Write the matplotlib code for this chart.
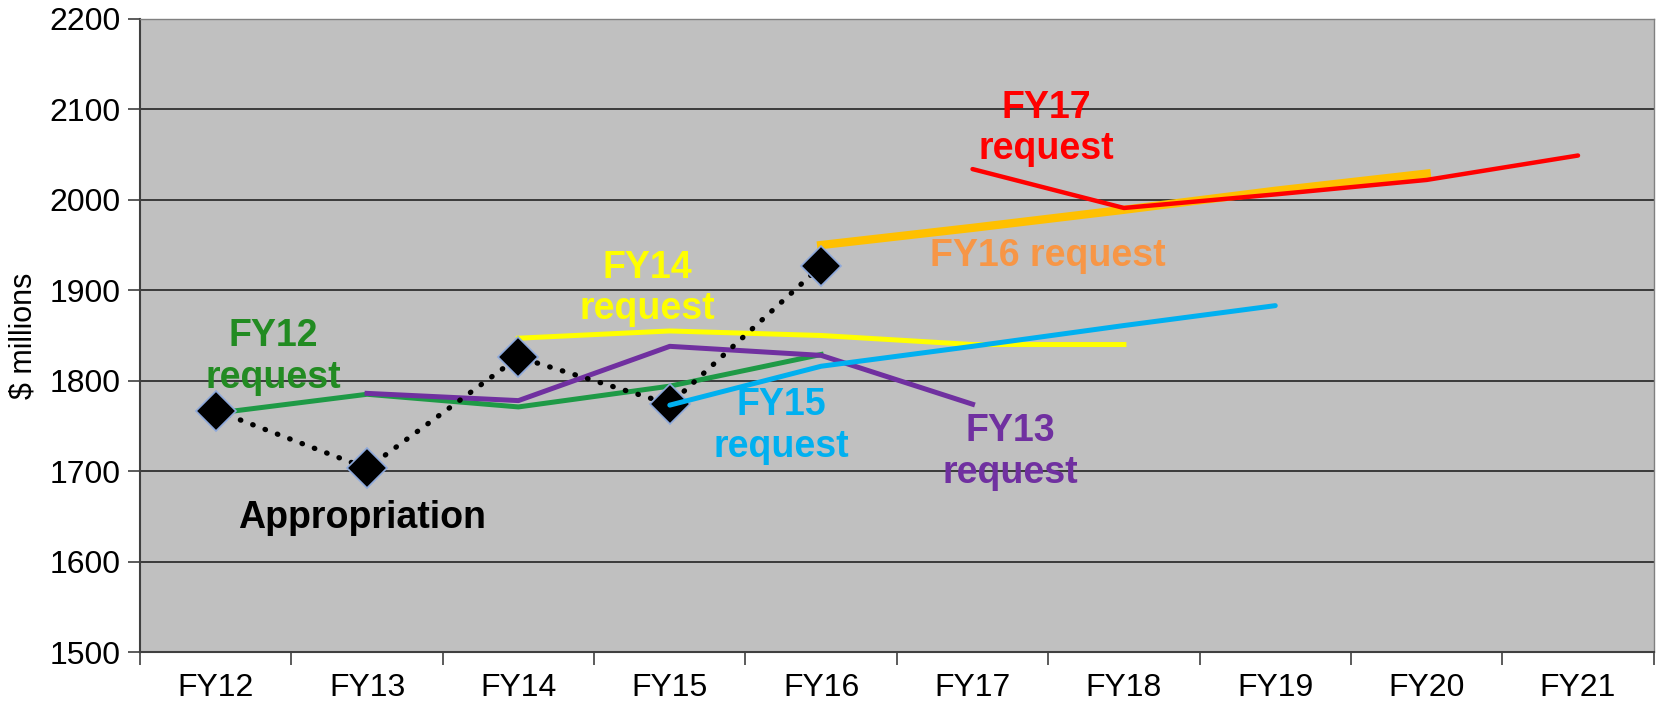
import numpy as np
import matplotlib.pyplot as plt

plt.switch_backend("agg")
plt.rcParams['font.family'] = ['Liberation Sans', 'DejaVu Sans']

years = ["FY12", "FY13", "FY14", "FY15", "FY16", "FY17", "FY18", "FY19", "FY20", "FY21"]
nan = np.nan

appropriation = [1767, 1703, 1826, 1774, 1927, nan, nan, nan, nan, nan]
fy12_req = [1764, 1785, 1771, 1794, 1829, nan, nan, nan, nan, nan]
fy13_req = [nan, 1786, 1778, 1838, 1828, 1774, nan, nan, nan, nan]
fy14_req = [nan, nan, 1847, 1855, 1850, 1840, 1840, nan, nan, nan]
fy15_req = [nan, nan, nan, 1773, 1816, 1838, 1861, 1883, nan, nan]
fy16_req = [nan, nan, nan, nan, 1950, 1969, 1989, 2010, 2029, nan]
fy17_req = [nan, nan, nan, nan, nan, 2034, 1991, 2006, 2022, 2049]

x = np.arange(len(years))

fig = plt.figure(figsize=(16.57, 7.02), dpi=100)
ax = fig.add_axes([0.0845, 0.0712, 0.9135, 0.9018])
ax.set_facecolor("#C0C0C0")

# request lines
ax.plot(x, fy12_req, color="#1E9A46", lw=3.6, zorder=3)
ax.plot(x, fy13_req, color="#7030A0", lw=3.6, zorder=3)
ax.plot(x, fy14_req, color="#FFFF00", lw=3.6, zorder=3)
ax.plot(x, fy15_req, color="#00B0F0", lw=3.6, zorder=4, solid_capstyle="round")
ax.plot(x, fy16_req, color="#FFC000", lw=6, zorder=3)
ax.plot(x, fy17_req, color="#FF0000", lw=3.2, zorder=3, solid_capstyle="round")

# appropriation
ax.plot(x, appropriation, color="black", lw=3.8, linestyle=(0, (0.1, 2.4)),
        dash_capstyle="round", zorder=3.5)
ax.plot(x, appropriation, linestyle="none", marker="D", ms=20,
        mfc="black", mec="#8EA9DB", mew=1.2, zorder=3.6)

# labels
lab = dict(fontsize=27, fontweight="bold", ha="center", va="center",
           linespacing=1.2, zorder=5)
ax.text(0.38, 1826, "FY12\nrequest", color="#228B22", **lab)
ax.text(0.97, 1648, "Appropriation", color="black", **lab)
ax.text(2.85, 1902, "FY14\nrequest", color="#FFFF00", **lab)
ax.text(3.74, 1750, "FY15\nrequest", color="#00B0F0", **lab)
ax.text(5.25, 1721, "FY13\nrequest", color="#7030A0", **lab)
ax.text(5.5, 1938, "FY16 request", color="#F79646", **lab)
ax.text(5.49, 2079, "FY17\nrequest", color="#FF0000", **lab)

ax.set_xlim(-0.5, 9.5)
ax.set_ylim(1500, 2200)
ax.set_yticks(np.arange(1500, 2201, 100))
ax.yaxis.grid(True, color="#3A3A3A", lw=1.4)
ax.set_axisbelow(True)

ax.set_xticks(np.arange(-0.5, 10, 1.0))
ax.set_xticklabels([])
ax.set_xticks(x, minor=True)
ax.set_xticklabels(years, minor=True)
ax.tick_params(axis="x", which="minor", length=0, pad=15, labelsize=23)
ax.tick_params(axis="x", which="major", length=9, width=1.2, color="#404040")
ax.tick_params(axis="y", length=9, width=1.2, color="#404040", labelsize=23, pad=5)

for s in ["left", "bottom"]:
    ax.spines[s].set_color("#404040")
    ax.spines[s].set_linewidth(1.5)
for s in ["right", "top"]:
    ax.spines[s].set_color("#808080")
    ax.spines[s].set_linewidth(1.0)

ax.set_ylabel("$ millions", fontsize=22, labelpad=8)

plt.savefig("out.png", dpi=100)
